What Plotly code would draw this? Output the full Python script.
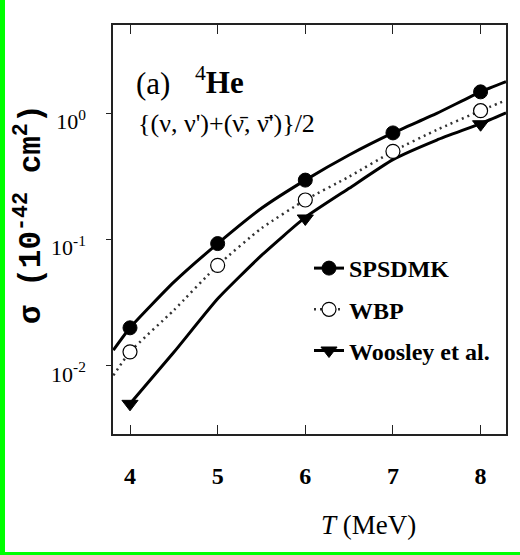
import plotly.graph_objects as go

# Temperatures (MeV) at which the cross sections are tabulated
T_points = [4, 5, 6, 7, 8]
T_woosley = [4, 6, 8]

# Flux-averaged neutral-current cross sections, units of 1e-42 cm^2
sigma_spsdmk = [0.020, 0.093, 0.296, 0.70, 1.48]
sigma_wbp = [0.0129, 0.0625, 0.206, 0.50, 1.05]
sigma_woosley = [0.0050, 0.147, 0.82]

# Continuous curves
T_curve = [3.81, 4.0, 4.5, 5.0, 5.5, 6.0, 6.5, 7.0, 7.5, 8.0, 8.29]
curve_spsdmk = [0.0133, 0.020, 0.046, 0.093, 0.177, 0.296, 0.468, 0.70, 1.0, 1.48, 1.78]
curve_wbp = [0.0084, 0.0129, 0.0276, 0.0625, 0.123, 0.206, 0.315, 0.50, 0.74, 1.05, 1.27]
T_curve_woosley = [4.0, 4.5, 5.0, 5.5, 6.0, 6.5, 7.0, 7.5, 8.0, 8.29]
curve_woosley = [0.0050, 0.0128, 0.034, 0.075, 0.15, 0.255, 0.43, 0.615, 0.83, 1.01]

y_tickvals = [1, 0.1, 0.01]
y_ticktext = ["10<sup>0</sup>", "10<sup>-1</sup>", "10<sup>-2</sup>"]
x_tickvals = [4, 5, 6, 7, 8]

series_names = ["SPSDMK", "WBP", "Woosley et al."]

SERIF = "Liberation Serif"
W, H = 520, 555
ML, MR, MT, MB = 113, 14, 25, 121
PW, PH = W - ML - MR, H - MT - MB


def px_x(px):
    return (px - ML) / PW


def px_y(py):
    return (H - MB - py) / PH


solid = dict(color="black", width=3)
dotted = dict(color="#333333", width=2.5, dash="2px,4px")

fig = go.Figure()

# curves
fig.add_trace(go.Scatter(x=T_curve, y=curve_spsdmk, mode="lines", line=dict(**solid, shape="spline", smoothing=0.5),
                         showlegend=False, hoverinfo="skip"))
fig.add_trace(go.Scatter(x=T_curve, y=curve_wbp, mode="lines", line=dict(**dotted, shape="spline", smoothing=0.5),
                         showlegend=False, hoverinfo="skip"))
fig.add_trace(go.Scatter(x=T_curve_woosley, y=curve_woosley, mode="lines",
                         line=dict(**solid, shape="spline", smoothing=0.5),
                         showlegend=False, hoverinfo="skip"))

# symbols
m_sps = dict(symbol="circle", size=14, color="black", line=dict(color="black", width=1))
m_wbp = dict(symbol="circle", size=14, color="white", line=dict(color="black", width=1.2))
m_woo = dict(symbol="triangle-down", size=14, color="black", line=dict(color="black", width=1))

fig.add_trace(go.Scatter(x=T_points, y=sigma_spsdmk, mode="markers", marker=m_sps, showlegend=False,
                         name=series_names[0]))
fig.add_trace(go.Scatter(x=T_points, y=sigma_wbp, mode="markers", marker=m_wbp, showlegend=False,
                         name=series_names[1]))
fig.add_trace(go.Scatter(x=T_woosley, y=sigma_woosley, mode="markers", marker=m_woo, showlegend=False,
                         name=series_names[2]))

# legend entries (line + symbol)
for name, ln, mk, grp in [(series_names[0], solid, m_sps, "a"),
                          (series_names[1], dotted, m_wbp, "b"),
                          (series_names[2], solid, m_woo, "c")]:
    fig.add_trace(go.Scatter(x=[None], y=[None], mode="lines+markers", line=ln, marker=mk,
                             name=name, legendgroup=grp, showlegend=True))

frame = "#222222"
fig.update_xaxes(range=[3.806, 8.29], tickvals=x_tickvals, ticks="inside", ticklen=9, tickwidth=1.2,
                 tickcolor=frame, showline=True, linecolor=frame, linewidth=1.5, mirror="ticks",
                 showgrid=False, zeroline=False, ticklabelstandoff=19,
                 tickfont=dict(family=SERIF, size=24, color="black", weight="bold"))
fig.update_yaxes(type="log", range=[-2.54, 0.70], tickvals=y_tickvals, ticktext=y_ticktext,
                 ticks="outside", ticklen=5, tickwidth=1.2, tickcolor=frame, showline=True,
                 linecolor=frame, linewidth=1.5, mirror=True, showgrid=False, zeroline=False,
                 ticklabelstandoff=16, ticklabelshift=8,
                 tickfont=dict(family=SERIF, size=22, color="black"))

annotations = [
    dict(x=px_x(134), y=px_y(83), text="(a)", xanchor="left", yanchor="middle",
         font=dict(family=SERIF, size=31, color="black")),
    dict(x=px_x(193), y=px_y(80), text="<sup>4</sup><b>He</b>", xanchor="left", yanchor="middle",
         font=dict(family=SERIF, size=31, color="black")),
    dict(x=px_x(136), y=px_y(124), text="{(ν, ν')+(ν\u0304, ν\u0304')}/2", xanchor="left", yanchor="middle",
         font=dict(family=SERIF, size=26, color="black")),
    dict(x=px_x(368), y=px_y(525), text="<i>T</i> (MeV)", xanchor="center", yanchor="middle",
         font=dict(family=SERIF, size=27, color="black")),
    dict(x=px_x(29), y=px_y(214), text="σ (10<sup>-42</sup> cm<sup>2</sup>)", textangle=-90,
         xanchor="center", yanchor="middle",
         font=dict(family="Liberation Mono", size=31, color="black", weight="bold")),
]
for a in annotations:
    a.update(xref="paper", yref="paper", showarrow=False)

shapes = [
    dict(type="rect", xref="paper", yref="paper", x0=px_x(0), x1=px_x(5), y0=px_y(555), y1=px_y(0),
         fillcolor="#00ff00", line=dict(width=0), layer="above"),
    dict(type="rect", xref="paper", yref="paper", x0=px_x(0), x1=px_x(520), y0=px_y(555), y1=px_y(552),
         fillcolor="#00ff00", line=dict(width=0), layer="above"),
]

fig.update_layout(
    width=W, height=H, margin=dict(l=ML, r=MR, t=MT, b=MB),
    paper_bgcolor="white", plot_bgcolor="white",
    annotations=annotations, shapes=shapes,
    legend=dict(x=px_x(309), y=px_y(246), xanchor="left", yanchor="top", bgcolor="rgba(0,0,0,0)",
                traceorder="grouped", tracegroupgap=7,
                font=dict(family=SERIF, size=24, color="black", weight="bold")),
)

fig.write_html("out.html")
